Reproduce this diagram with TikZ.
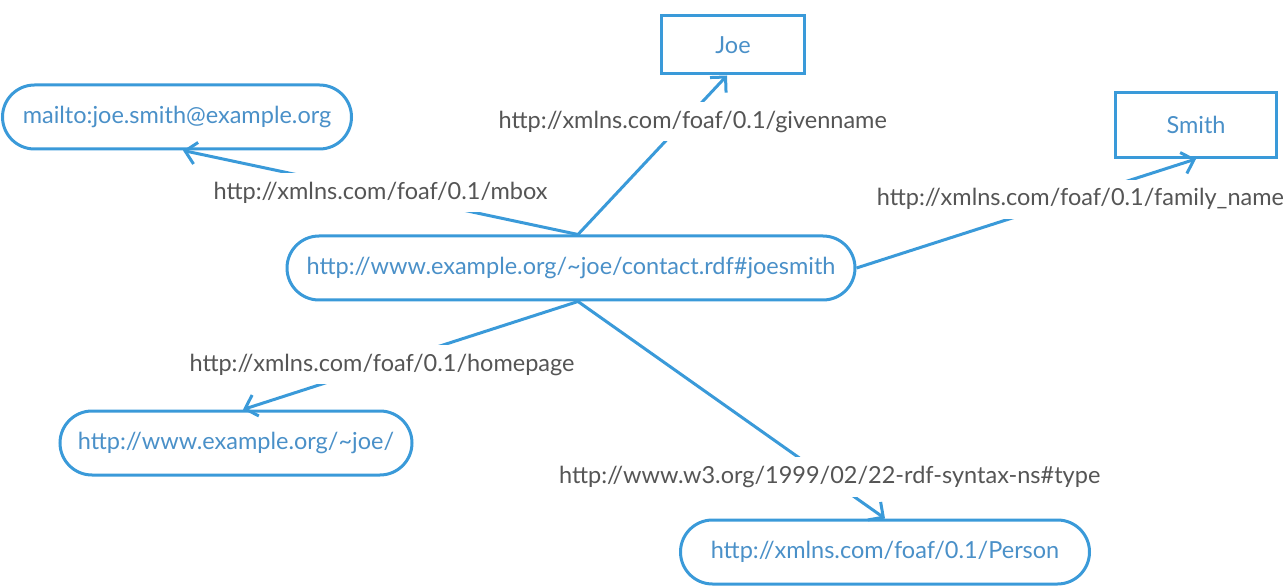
\documentclass[tikz,border=0pt]{standalone}
\usepackage{fontspec}
\setmainfont{Lato}
\usetikzlibrary{arrows.meta}
\definecolor{rdfblue}{HTML}{3A9AD9}
\definecolor{rdftext}{HTML}{4A90C8}
\definecolor{rdfgray}{HTML}{555555}
\begin{document}
\begin{tikzpicture}[x=1pt,y=-1pt,->,>={Straight Barb[length=11pt,width=22pt]},color=rdfblue,line width=3pt,font=\fontsize{23.5}{28}\selectfont,
  res node/.style={rectangle,draw,rounded corners=32pt,minimum height=64pt,text=rdftext},
  lit node/.style={rectangle,draw,text=rdftext}]

  \useasboundingbox (0,0) rectangle (1286,588);

  \node[res node,minimum width=568pt] (contact) at (571,268) {http://www.example.org/\textasciitilde joe/contact.rdf\#joesmith};
  \node[res node,minimum width=349pt] (mbox) at (177,117) {mailto:joe.smith@example.org};
  \node[lit node,minimum width=143pt,minimum height=58pt] (joe) at (733,45) {Joe};
  \node[lit node,minimum width=161pt,minimum height=65pt] (smith) at (1196,125) {Smith};
  \node[res node,minimum width=352pt] (home) at (236,443) {http://www.example.org/\textasciitilde joe/};
  \node[res node,minimum width=409pt] (person) at (885,552) {http://xmlns.com/foaf/0.1/Person};

  \path[every node/.style={fill=white,text=rdfgray,inner xsep=3pt,inner ysep=9pt}]
    ([xshift=7pt]contact.north) edge node[pos=.5] {http://xmlns.com/foaf/0.1/mbox} ([xshift=6pt]mbox.south)
    ([xshift=7pt]contact.north) edge node[pos=.71,xshift=9pt] {http://xmlns.com/foaf/0.1/givenname} ([xshift=-6pt]joe.south)
    (contact.east) edge node[pos=.63,xshift=10pt] {http://xmlns.com/foaf/0.1/family\_name} (smith.south)
    ([xshift=7pt]contact.south) edge node[pos=.585] {http://xmlns.com/foaf/0.1/homepage} ([xshift=7pt]home.north)
    ([xshift=7pt]contact.south) edge node[pos=.81,xshift=3pt] {http://www.w3.org/1999/02/22-rdf-syntax-ns\#type} (person.north);
\end{tikzpicture}
\end{document}
